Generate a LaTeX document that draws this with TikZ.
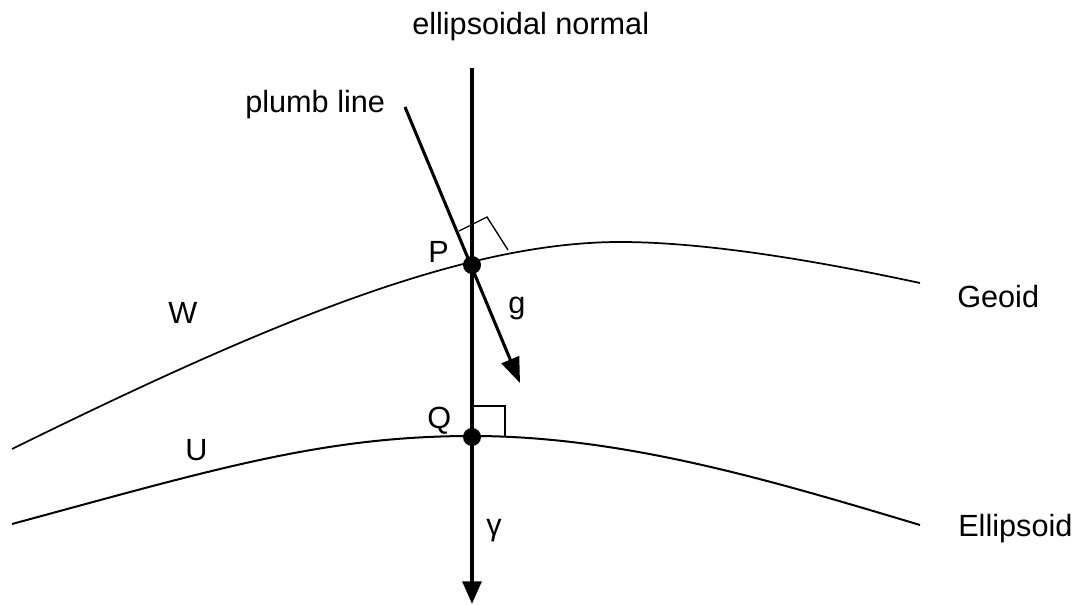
\documentclass[tikz,border=0pt]{standalone}
\usepackage{fontspec}
\setmainfont{Liberation Sans}
\usetikzlibrary{arrows.meta}
\begin{document}
\begin{tikzpicture}[x=0.75pt,y=-0.75pt,
  lbl/.style={font=\fontsize{23}{27}\selectfont, inner sep=0pt, anchor=base west},
  surface/.style={line width=1.3pt, line join=round},
  normalline/.style={line width=3pt, -{Triangle[length=17pt,width=14pt]}},
  plumbline/.style={line width=2.3pt, -{Triangle[length=19pt,width=14pt]}},
  rightmark/.style={line width=1pt},
  pointdot/.style={circle, fill=black, inner sep=0pt, minimum size=13.5pt}]
\useasboundingbox (0,0) rectangle (1083,605);
% surfaces
\coordinate (g0) at (12,449);
\coordinate (gpk) at (620,242);
\coordinate (g1) at (920,283);
\draw[surface] (g0) .. controls (262,326) and (460,242) .. (gpk)
  .. controls (720,242) and (850,268) .. (g1);
\coordinate (e0) at (12,524);
\coordinate (epk) at (472,436);
\coordinate (e1) at (920,525);
\draw[surface, line width=1.5pt] (e0) .. controls (212,470) and (322,436) .. (epk)
  .. controls (622,436) and (770,480) .. (e1);
% coordinates
\coordinate (ntop) at (472,68);
\coordinate (nbot) at (472,604);
\coordinate (ptop) at (405,107);
\coordinate (gtip) at (520,383);
% right-angle marks
\coordinate (ra1) at (459,231);
\coordinate (ra2) at (487,217);
\coordinate (ra3) at (508,250);
\draw[rightmark] (ra1) -- (ra2) -- (ra3);
\coordinate (rb1) at (473,406);
\coordinate (rb2) at (505,406);
\coordinate (rb3) at (505,436);
\draw[rightmark] (rb1) -- (rb2) -- (rb3);
% lines
\draw[normalline] (ntop) -- (nbot);
\draw[plumbline] (ptop) -- (gtip);
% points
\node[pointdot] (P) at (472,265) {};
\node[pointdot] (Q) at (472,437) {};
% labels
\node[lbl] (lnormal) at (412,35) {ellipsoidal normal};
\node[lbl] (lplumb) at (245,113) {plumb line};
\node[lbl] (lP) at (428,263) {P};
\node[lbl] (lg) at (508,314) {g};
\node[lbl] (lW) at (168,324) {W};
\node[lbl] (lGeoid) at (957,308) {Geoid};
\node[lbl] (lQ) at (427,429) {Q};
\node[lbl] (lU) at (185,461) {U};
\node[lbl] (lgamma) at (486,536) {γ};
\node[lbl] (lEll) at (958,537) {Ellipsoid};
\end{tikzpicture}
\end{document}
